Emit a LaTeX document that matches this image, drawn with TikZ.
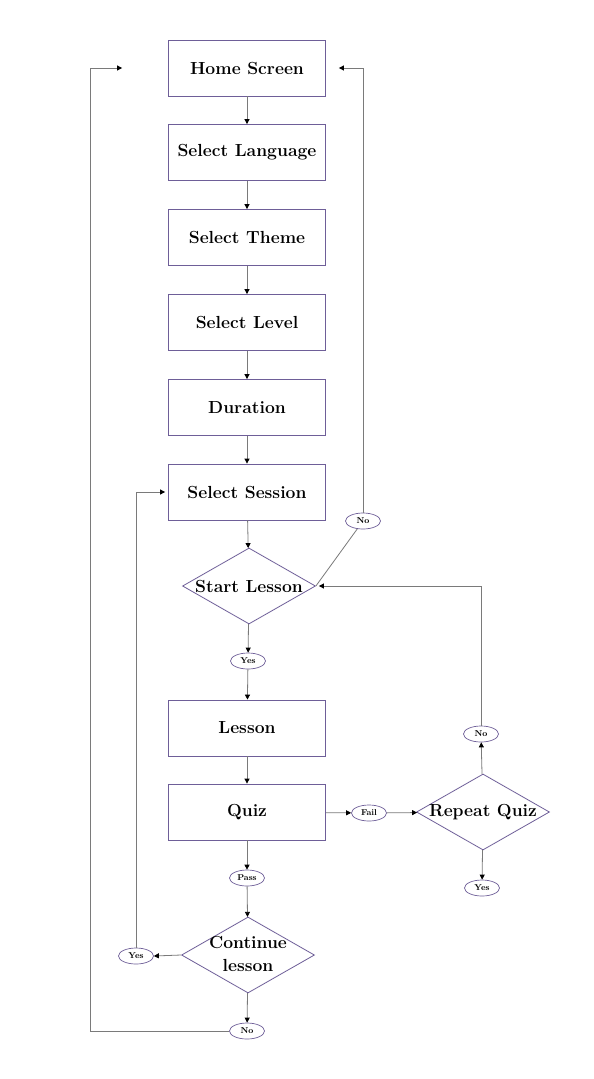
\documentclass[tikz,border=0pt]{standalone}
\usetikzlibrary{shapes.geometric,arrows.meta}
\definecolor{boxc}{HTML}{6E5E98}
\definecolor{linec}{HTML}{7A7A7A}
\begin{document}
\begin{tikzpicture}[x=1pt,y=-1pt,
  stepbox/.style={draw=boxc,line width=0.8pt,minimum width=157pt,minimum height=56pt,inner sep=0pt,font=\fontsize{17.5}{21}\selectfont\bfseries},
  decision/.style={diamond,draw=boxc,line width=0.8pt,minimum width=133pt,minimum height=76pt,inner sep=0pt,font=\fontsize{17.5}{23}\selectfont\bfseries},
  tag/.style={ellipse,draw=boxc,line width=0.7pt,minimum width=35pt,minimum height=16pt,inner sep=0pt,font=\fontsize{8.5}{9}\selectfont\bfseries},
  arr/.style={draw=linec,line width=0.8pt,-{Triangle[length=5pt,width=5pt,color=black]}},
  ln/.style={draw=linec,line width=0.8pt}]
\useasboundingbox (0,0) rectangle (594,1079);
\fill[white] (0,0) rectangle (594,1079);
\node[stepbox] (home) at (247,68) {Home Screen};
\node[stepbox] (lang) at (247,152.5) {Select Language};
\node[stepbox] (theme) at (247,237.5) {Select Theme};
\node[stepbox] (level) at (247,322.5) {Select Level};
\node[stepbox] (dur) at (247,407.5) {Duration};
\node[stepbox] (sess) at (247,492) {Select Session};
\node[decision] (start) at (249,586) {\makebox[0pt]{Start Lesson}};
\node[tag] (no1) at (363,521) {No};
\node[tag] (yes1) at (248,661) {Yes};
\node[stepbox] (lesson) at (247,728) {Lesson};
\node[stepbox] (quiz) at (247,812) {Quiz};
\node[tag] (fail) at (369,813) {Fail};
\node[decision] (repeat) at (483,812) {\makebox[0pt]{Repeat Quiz}};
\node[tag] (no2) at (481,734) {No};
\node[tag] (yes2) at (482,888) {Yes};
\node[tag] (pass) at (247,878) {Pass};
\node[decision] (cont) at (248,955) {\makebox[0pt]{\begin{tabular}{@{}c@{}}Continue\\lesson\end{tabular}}};
\node[tag] (yes3) at (136,956) {Yes};
\node[tag] (no3) at (247,1031) {No};
\coordinate (lc) at (90,1031);
\draw[arr] (home) -- (lang);
\draw[arr] (lang) -- (theme);
\draw[arr] (theme) -- (level);
\draw[arr] (level) -- (dur);
\draw[arr] (dur) -- (sess);
\draw[arr] (sess) -- (start);
\draw[arr] (start) -- (yes1);
\draw[arr] (yes1) -- (lesson);
\draw[arr] (lesson) -- (quiz);
\draw[arr] (quiz) -- (fail);
\draw[arr] (fail) -- (repeat);
\draw[arr] (repeat) -- (no2);
\draw[arr] (repeat) -- (yes2);
\draw[arr,shorten >=3pt] (no2.north) |- (start.east);
\draw[ln] (no1) -- (start.east);
\draw[arr,shorten >=13pt] (no1.north) |- (home.east);
\draw[arr] (quiz) -- (pass);
\draw[arr] (pass) -- (cont);
\draw[arr] (cont.west) -- (yes3.east);
\draw[arr,shorten >=3pt] (yes3.north) |- (sess.west);
\draw[arr] (cont) -- (no3);
\draw[arr,shorten >=46pt] (no3.west) -- (lc) |- (home.west);
\end{tikzpicture}
\end{document}
